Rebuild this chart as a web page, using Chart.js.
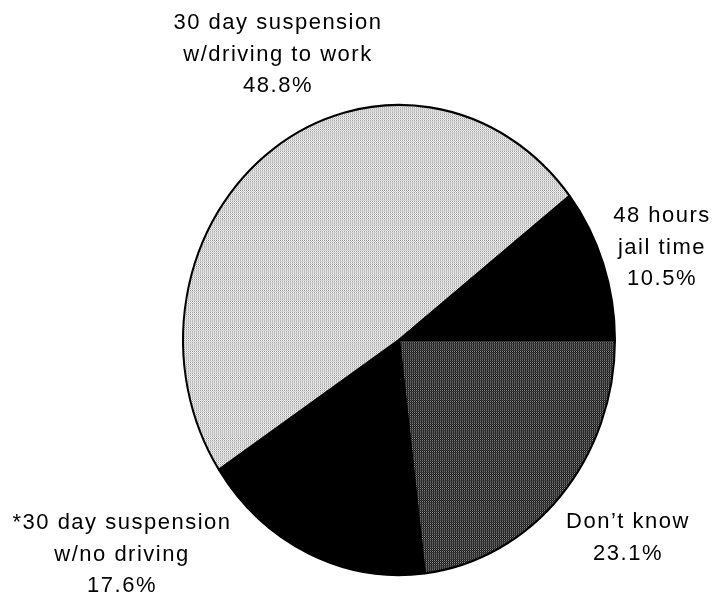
<!DOCTYPE html>
<html>
<head>
<meta charset="utf-8">
<script src="https://cdn.jsdelivr.net/npm/chart.js@4"></script>
<style>
  html, body { margin: 0; padding: 0; background: #fff; }
  #wrap { width: 713px; height: 592px; }
</style>
</head>
<body>
<div id="wrap"><canvas id="pieChart" width="713" height="592"></canvas></div>
<script>
// data, clockwise from 3 o'clock
const categories = ['Don’t know', '*30 day suspension w/no driving', '30 day suspension w/driving to work', '48 hours jail time'];
const shares = [23.1, 17.6, 48.8, 10.5];
const labelLines = [
    ['Don’t know', '23.1%'],
    ['*30 day suspension', 'w/no driving', '17.6%'],
    ['30 day suspension', 'w/driving to work', '48.8%'],
    ['48 hours', 'jail time', '10.5%'],
];
// label block: centre x, first baseline
const labelPos = [
    [628, 528],
    [122, 529],
    [278, 29],
    [662, 222],
];

// stippled fills like the old print (2x2 checker tiles)
function stipple(colors) {
    const c = document.createElement('canvas');
    c.width = 2; c.height = 2;
    const g = c.getContext('2d');
    colors.forEach((col, i) => {
        g.fillStyle = col;
        g.fillRect(i % 2, Math.floor(i / 2), 1, 1);
    });
    return g.createPattern(c, 'repeat');
}
const lightFill = stipple(['#8c8c8c', '#ffffff', '#f4f4f4', '#c4c4c4']);
const darkFill = stipple(['#9a9a9a', '#0a0a0a', '#161616', '#4a4a4a']);

// the original pie is a little taller than wide
const stretchY = 1.088;
const ellipse = {
    id: 'ellipse',
    beforeDatasetsDraw(chart) {
        const arc = chart.getDatasetMeta(0).data[0];
        const ctx = chart.ctx;
        ctx.save();
        ctx.translate(arc.x, arc.y);
        ctx.scale(1, stretchY);
        ctx.translate(-arc.x, -arc.y);
    },
    afterDatasetsDraw(chart) {
        chart.ctx.restore();
    },
};

const sliceLabels = {
    id: 'sliceLabels',
    afterDraw(chart) {
        const ctx = chart.ctx;
        ctx.save();
        ctx.font = '22px "Liberation Sans", Arial, sans-serif';
        ctx.letterSpacing = '1.5px';
        ctx.fillStyle = '#000';
        ctx.textAlign = 'center';
        ctx.textBaseline = 'alphabetic';
        labelLines.forEach((lines, i) => {
            const [x, y] = labelPos[i];
            lines.forEach((t, j) => ctx.fillText(t, x, y + j * 31.5));
        });
        ctx.restore();
    },
};

const ctx = document.getElementById('pieChart').getContext('2d');
new Chart(ctx, {
    type: 'pie',
    data: {
        labels: categories,
        datasets: [
            {
                data: shares,
                backgroundColor: [darkFill, '#000000', lightFill, '#000000'],
                borderColor: '#000000',
                borderWidth: 2,
                clip: false,
            },
        ],
    },
    options: {
        responsive: false,
        animation: false,
        rotation: 90,
        layout: { padding: { left: 182, right: 97, top: 123, bottom: 35 } },
        plugins: {
            legend: { display: false },
            tooltip: { enabled: false },
        },
        events: [],
    },
    plugins: [ellipse, sliceLabels],
});
</script>
</body>
</html>
